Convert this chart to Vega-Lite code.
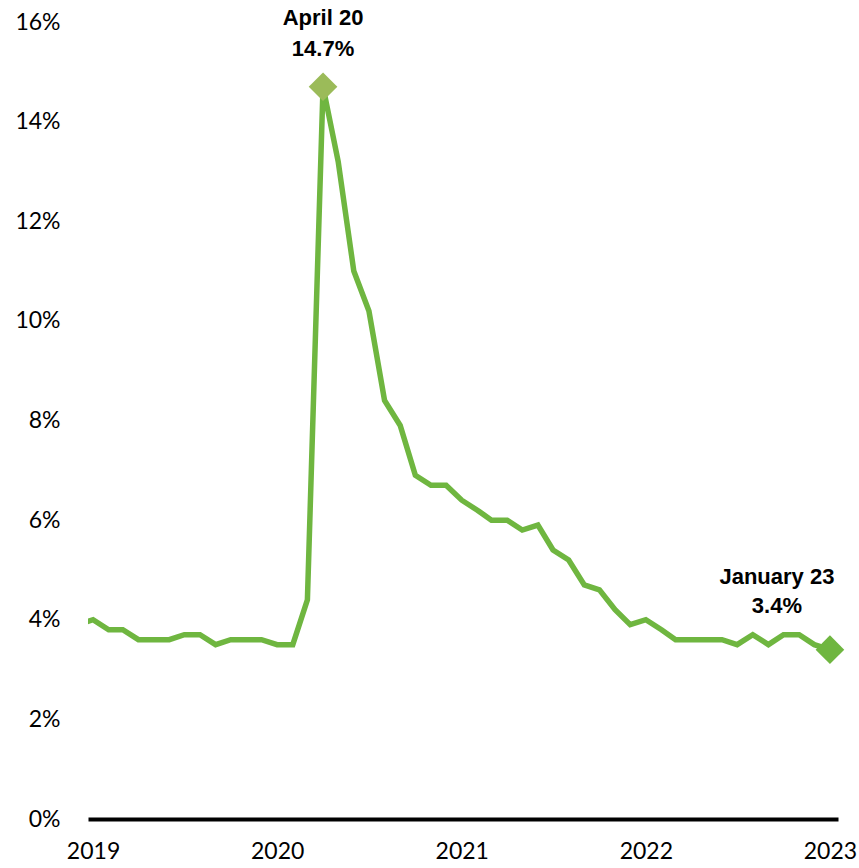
{
  "$schema": "https://vega.github.io/schema/vega-lite/v6.json",
  "width": 750,
  "height": 797,
  "autosize": "none",
  "padding": {"left": 88, "top": 22, "right": 21, "bottom": 49},
  "background": "white",
  "config": {"view": {"stroke": null}},
  "datasets": {
    "rate": [
      {"date": "2018/12/01", "value": 3.9},
      {"date": "2019/01/01", "value": 4.0},
      {"date": "2019/02/01", "value": 3.8},
      {"date": "2019/03/01", "value": 3.8},
      {"date": "2019/04/01", "value": 3.6},
      {"date": "2019/05/01", "value": 3.6},
      {"date": "2019/06/01", "value": 3.6},
      {"date": "2019/07/01", "value": 3.7},
      {"date": "2019/08/01", "value": 3.7},
      {"date": "2019/09/01", "value": 3.5},
      {"date": "2019/10/01", "value": 3.6},
      {"date": "2019/11/01", "value": 3.6},
      {"date": "2019/12/01", "value": 3.6},
      {"date": "2020/01/01", "value": 3.5},
      {"date": "2020/02/01", "value": 3.5},
      {"date": "2020/03/01", "value": 4.4},
      {"date": "2020/04/01", "value": 14.7},
      {"date": "2020/05/01", "value": 13.2},
      {"date": "2020/06/01", "value": 11.0},
      {"date": "2020/07/01", "value": 10.2},
      {"date": "2020/08/01", "value": 8.4},
      {"date": "2020/09/01", "value": 7.9},
      {"date": "2020/10/01", "value": 6.9},
      {"date": "2020/11/01", "value": 6.7},
      {"date": "2020/12/01", "value": 6.7},
      {"date": "2021/01/01", "value": 6.4},
      {"date": "2021/02/01", "value": 6.2},
      {"date": "2021/03/01", "value": 6.0},
      {"date": "2021/04/01", "value": 6.0},
      {"date": "2021/05/01", "value": 5.8},
      {"date": "2021/06/01", "value": 5.9},
      {"date": "2021/07/01", "value": 5.4},
      {"date": "2021/08/01", "value": 5.2},
      {"date": "2021/09/01", "value": 4.7},
      {"date": "2021/10/01", "value": 4.6},
      {"date": "2021/11/01", "value": 4.2},
      {"date": "2021/12/01", "value": 3.9},
      {"date": "2022/01/01", "value": 4.0},
      {"date": "2022/02/01", "value": 3.8},
      {"date": "2022/03/01", "value": 3.6},
      {"date": "2022/04/01", "value": 3.6},
      {"date": "2022/05/01", "value": 3.6},
      {"date": "2022/06/01", "value": 3.6},
      {"date": "2022/07/01", "value": 3.5},
      {"date": "2022/08/01", "value": 3.7},
      {"date": "2022/09/01", "value": 3.5},
      {"date": "2022/10/01", "value": 3.7},
      {"date": "2022/11/01", "value": 3.7},
      {"date": "2022/12/01", "value": 3.5},
      {"date": "2023/01/01", "value": 3.4}
    ],
    "peak": [
      {"date": "2020/04/01", "value": 14.7, "label": ["April 20", "14.7%"]}
    ],
    "latest": [
      {"date": "2023/01/01", "value": 3.4, "label": ["January 23", "3.4%"]}
    ]
  },
  "encoding": {
    "x": {
      "field": "date",
      "type": "temporal",
      "scale": {
        "domain": [
          {"year": 2018, "month": 12, "date": 22},
          {"year": 2023, "month": 1, "date": 17}
        ]
      },
      "axis": {
        "title": null,
        "values": [
          {"year": 2019, "month": 1, "date": 1},
          {"year": 2020, "month": 1, "date": 1},
          {"year": 2021, "month": 1, "date": 1},
          {"year": 2022, "month": 1, "date": 1},
          {"year": 2023, "month": 1, "date": 1}
        ],
        "format": "%Y",
        "grid": false,
        "ticks": false,
        "domain": true,
        "domainColor": "#000000",
        "domainWidth": 4,
        "labelFont": "Lato",
        "labelFontSize": 23,
        "labelColor": "#000000",
        "labelPadding": 21,
        "labelOverlap": false,
        "labelFlush": false
      }
    },
    "y": {
      "field": "value",
      "type": "quantitative",
      "scale": {"domain": [0, 16], "nice": false, "zero": true},
      "axis": {
        "title": null,
        "values": [0, 2, 4, 6, 8, 10, 12, 14, 16],
        "labelExpr": "datum.value + '%'",
        "grid": false,
        "ticks": false,
        "domain": false,
        "labelFont": "Lato",
        "labelFontSize": 23,
        "labelColor": "#000000",
        "labelPadding": 28,
        "labelOverlap": false
      }
    }
  },
  "layer": [
    {
      "data": {"name": "rate"},
      "mark": {"type": "line", "color": "#6fb640", "strokeWidth": 5.5, "clip": true, "strokeJoin": "miter"}
    },
    {
      "data": {"name": "peak"},
      "mark": {"type": "point", "shape": "diamond", "size": 820, "filled": true, "opacity": 1, "color": "#9bbb59"}
    },
    {
      "data": {"name": "latest"},
      "mark": {"type": "point", "shape": "diamond", "size": 820, "filled": true, "opacity": 1, "color": "#6fb640"}
    },
    {
      "data": {"name": "peak"},
      "mark": {"type": "text", "font": "Liberation Sans", "fontWeight": "bold", "fontSize": 22, "color": "#000000", "align": "center", "baseline": "bottom", "dy": -57, "lineHeight": 31},
      "encoding": {"text": {"field": "label"}}
    },
    {
      "data": {"name": "latest"},
      "mark": {"type": "text", "font": "Liberation Sans", "fontWeight": "bold", "fontSize": 22, "color": "#000000", "align": "center", "baseline": "bottom", "dx": -53, "dy": -61, "lineHeight": 29},
      "encoding": {"text": {"field": "label"}}
    }
  ]
}
